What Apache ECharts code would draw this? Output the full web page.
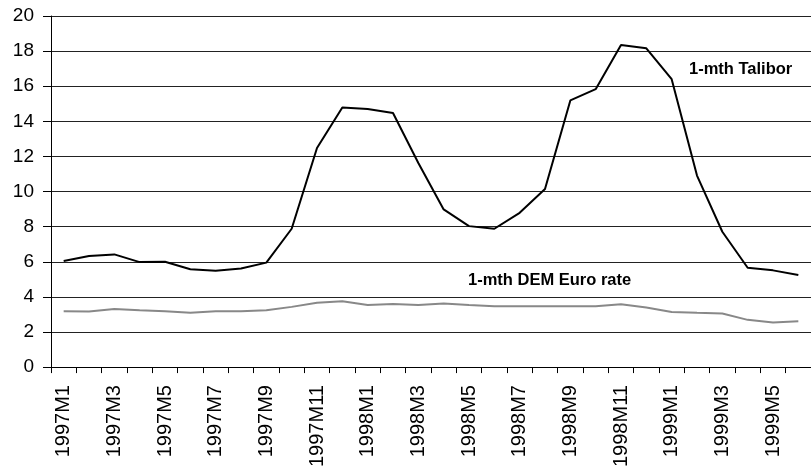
<!DOCTYPE html>
<html>
<head>
<meta charset="utf-8">
<script src="https://cdn.jsdelivr.net/npm/echarts@6/dist/echarts.min.js"></script>
<style>
html,body{margin:0;padding:0;background:#fff;}
#chart{width:811px;height:470px;}
</style>
</head>
<body>
<div id="chart"></div>
<script>
var categories = ['1997M1','1997M2','1997M3','1997M4','1997M5','1997M6','1997M7','1997M8','1997M9','1997M10','1997M11','1997M12',
  '1998M1','1998M2','1998M3','1998M4','1998M5','1998M6','1998M7','1998M8','1998M9','1998M10','1998M11','1998M12',
  '1999M1','1999M2','1999M3','1999M4','1999M5','1999M6'];
var talibor = [6.04,6.33,6.42,5.98,6.0,5.57,5.49,5.62,5.95,7.88,12.48,14.79,
  14.70,14.47,11.63,8.98,8.03,7.88,8.79,10.15,15.19,15.83,18.35,18.16,
  16.40,10.91,7.71,5.66,5.51,5.25];
var demEuro = [3.18,3.17,3.31,3.24,3.18,3.09,3.18,3.18,3.24,3.43,3.66,3.75,
  3.54,3.60,3.54,3.62,3.54,3.47,3.47,3.47,3.47,3.47,3.58,3.39,
  3.14,3.09,3.05,2.69,2.54,2.61];
var yTicks = {min:0, max:20, interval:2};
var seriesNames = ['1-mth Talibor','1-mth DEM Euro rate'];

var font = '"Liberation Sans", Arial, sans-serif';
var chart = echarts.init(document.getElementById('chart'), null, {renderer:'canvas'});
chart.setOption({
  animation:false,
  backgroundColor:'#ffffff',
  grid:{left:51, top:16, width:768, height:352, containLabel:false},
  xAxis:{
    type:'category',
    data:categories,
    boundaryGap:true,
    axisLine:{show:true, lineStyle:{color:'#000', width:1}},
    axisTick:{show:true, interval:0, length:6, lineStyle:{color:'#000'}},
    axisLabel:{interval:1, rotate:90, margin:18, color:'#000', fontFamily:font, fontSize:20},
    splitLine:{show:false}
  },
  yAxis:{
    type:'value',
    min:yTicks.min, max:yTicks.max, interval:yTicks.interval,
    axisLine:{show:true, lineStyle:{color:'#000', width:1}},
    axisTick:{show:true, length:8, lineStyle:{color:'#000'}},
    axisLabel:{margin:17, color:'#000', fontFamily:font, fontSize:19},
    splitLine:{show:true, lineStyle:{color:'#222', width:1}}
  },
  series:[
    {name:seriesNames[0], type:'line', data:talibor, symbol:'none', lineStyle:{color:'#000', width:2}},
    {name:seriesNames[1], type:'line', data:demEuro, symbol:'none', lineStyle:{color:'#888', width:2}}
  ],
  graphic:[
    {type:'text', left:689, top:61, style:{text:seriesNames[0], fill:'#000', font:'bold 16.5px ' + font}},
    {type:'text', left:468, top:272, style:{text:seriesNames[1], fill:'#000', font:'bold 16.5px ' + font}}
  ]
});
</script>
</body>
</html>
